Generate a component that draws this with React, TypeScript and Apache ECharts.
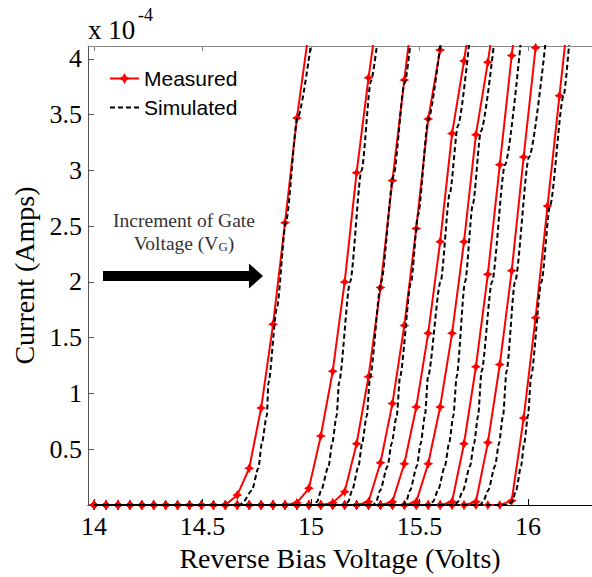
import React, { useEffect, useRef } from "react";
import * as echarts from "echarts";

// ---- axis ticks ----
const X_TICKS = [14, 14.5, 15, 15.5, 16];
const Y_TICKS = [0, 0.5, 1, 1.5, 2, 2.5, 3, 3.5, 4];
const Y_LABELS = [0.5, 1, 1.5, 2, 2.5, 3, 3.5, 4];

// ---- measured voltage grid (Volts) ----
const V_MEAS = [
  14.0, 14.055, 14.11, 14.165, 14.22, 14.275, 14.33, 14.385, 14.44, 14.495,
  14.55, 14.605, 14.66, 14.715, 14.77, 14.825, 14.88, 14.935, 14.99, 15.045,
  15.1, 15.155, 15.21, 15.265, 15.32, 15.375, 15.43, 15.485, 15.54, 15.595,
  15.65, 15.705, 15.76, 15.815, 15.87, 15.925, 15.98, 16.035, 16.09, 16.145,
  16.2,
];

// ---- measured currents (x 1e-4 A), aligned with V_MEAS ----
const MEAS_1 = [
  0, 0, 0, 0, 0, 0, 0, 0, 0, 0,
  0, 0, 0.09, 0.33, 0.87, 1.62, 2.53, 3.47, 4.25,
];
const MEAS_2 = [
  0, 0, 0, 0, 0, 0, 0, 0, 0, 0,
  0, 0, 0, 0, 0, 0, 0, 0.02, 0.15, 0.62,
  1.2, 2.0, 2.98, 3.83, 4.6,
];
const MEAS_3 = [
  0, 0, 0, 0, 0, 0, 0, 0, 0, 0,
  0, 0, 0, 0, 0, 0, 0, 0, 0, 0,
  0.02, 0.12, 0.55, 1.15, 1.95, 2.91, 3.81, 4.7,
];
const MEAS_4 = [
  0, 0, 0, 0, 0, 0, 0, 0, 0, 0,
  0, 0, 0, 0, 0, 0, 0, 0, 0, 0,
  0, 0, 0, 0.03, 0.38, 0.91, 1.61, 2.48, 3.46, 4.08,
  4.8,
];
const MEAS_5 = [
  0, 0, 0, 0, 0, 0, 0, 0, 0, 0,
  0, 0, 0, 0, 0, 0, 0, 0, 0, 0,
  0, 0, 0, 0, 0, 0.03, 0.37, 0.88, 1.54, 2.36,
  3.33, 3.98, 4.7,
];
const MEAS_6 = [
  0, 0, 0, 0, 0, 0, 0, 0, 0, 0,
  0, 0, 0, 0, 0, 0, 0, 0, 0, 0,
  0, 0, 0, 0, 0, 0, 0, 0.03, 0.37, 0.88,
  1.54, 2.36, 3.32, 3.97, 4.7,
];
const MEAS_7 = [
  0, 0, 0, 0, 0, 0, 0, 0, 0, 0,
  0, 0, 0, 0, 0, 0, 0, 0, 0, 0,
  0, 0, 0, 0, 0, 0, 0, 0, 0, 0,
  0.03, 0.55, 1.24, 2.07, 3.05, 4.03, 4.9,
];
const MEAS_8 = [
  0, 0, 0, 0, 0, 0, 0, 0, 0, 0,
  0, 0, 0, 0, 0, 0, 0, 0, 0, 0,
  0, 0, 0, 0, 0, 0, 0, 0, 0, 0,
  0, 0, 0.03, 0.56, 1.26, 2.1, 3.12, 4.1, 5.0,
];
const MEAS_9 = [
  0, 0, 0, 0, 0, 0, 0, 0, 0, 0,
  0, 0, 0, 0, 0, 0, 0, 0, 0, 0,
  0, 0, 0, 0, 0, 0, 0, 0, 0, 0,
  0, 0, 0, 0, 0, 0.04, 0.78, 1.68, 2.68, 3.67,
  4.65,
];
const MEASURED = [MEAS_1, MEAS_2, MEAS_3, MEAS_4, MEAS_5, MEAS_6, MEAS_7, MEAS_8, MEAS_9];

// ---- simulated curves: [Volts, current x 1e-4 A] ----
const SIM_1: [number, number][] = [
  [14.0, 0], [14.673, 0], [14.687, 0.03], [14.727, 0.13], [14.757, 0.33], [14.773, 0.55],
  [14.796, 0.8], [14.804, 1.1], [14.842, 1.76], [14.885, 2.55], [14.938, 3.47], [15.007, 4.24],
];
const SIM_2: [number, number][] = [
  [14.0, 0], [15.014, 0], [15.028, 0.03], [15.046, 0.13], [15.081, 0.35], [15.097, 0.55],
  [15.118, 0.8], [15.129, 1.1], [15.18, 2.0], [15.233, 3.0], [15.276, 3.8], [15.311, 4.24],
];
const SIM_3: [number, number][] = [
  [14.0, 0], [15.157, 0], [15.171, 0.03], [15.189, 0.13], [15.219, 0.35], [15.235, 0.55],
  [15.257, 0.8], [15.272, 1.15], [15.323, 2.0], [15.38, 2.95], [15.431, 3.78], [15.465, 4.26],
];
const SIM_4: [number, number][] = [
  [14.0, 0], [15.286, 0], [15.3, 0.03], [15.318, 0.13], [15.353, 0.35], [15.371, 0.55],
  [15.395, 0.8], [15.41, 1.15], [15.461, 2.0], [15.493, 2.6], [15.541, 3.46], [15.601, 4.22],
];
const SIM_5: [number, number][] = [
  [14.0, 0], [15.424, 0], [15.438, 0.03], [15.456, 0.13], [15.488, 0.35], [15.505, 0.55],
  [15.525, 0.8], [15.539, 1.15], [15.597, 2.0], [15.64, 2.8], [15.677, 3.4], [15.733, 4.22],
];
const SIM_6: [number, number][] = [
  [14.0, 0], [15.548, 0], [15.562, 0.03], [15.585, 0.13], [15.617, 0.35], [15.636, 0.55],
  [15.656, 0.8], [15.671, 1.15], [15.71, 2.0], [15.746, 2.7], [15.783, 3.35], [15.848, 4.22],
];
const SIM_7: [number, number][] = [
  [14.0, 0], [15.663, 0], [15.677, 0.03], [15.7, 0.13], [15.733, 0.35], [15.751, 0.55],
  [15.77, 0.8], [15.786, 1.2], [15.834, 2.0], [15.894, 3.05], [15.97, 4.22],
];
const SIM_8: [number, number][] = [
  [14.0, 0], [15.779, 0], [15.793, 0.03], [15.816, 0.13], [15.848, 0.35], [15.866, 0.55],
  [15.885, 0.8], [15.901, 1.2], [15.94, 2.0], [16.005, 3.12], [16.085, 4.22],
];
const SIM_9: [number, number][] = [
  [14.0, 0], [15.908, 0], [15.926, 0.03], [15.945, 0.13], [15.968, 0.35], [15.982, 0.55],
  [16.0, 0.8], [16.014, 1.15], [16.062, 2.0], [16.101, 2.68], [16.164, 3.67], [16.193, 4.22],
];
const SIMULATED = [SIM_1, SIM_2, SIM_3, SIM_4, SIM_5, SIM_6, SIM_7, SIM_8, SIM_9];

const STAR = "path://M0,-10L3.5,-3.5L10,0L3.5,3.5L0,10L-3.5,3.5L-10,0L-3.5,-3.5Z";
const SERIF = "'Liberation Serif', 'Times New Roman', serif";
const SANS = "'Liberation Sans', Arial, sans-serif";

export default function App() {
  const ref = useRef<HTMLDivElement>(null);

  useEffect(() => {
    if (!ref.current) return;
    const chart = echarts.init(ref.current, undefined, { renderer: "svg" });

    const measuredSeries = MEASURED.map((cur) => ({
      type: "line",
      name: "Measured",
      data: cur.map((c, i) => [V_MEAS[i], c]),
      symbol: STAR,
      symbolSize: 10,
      showSymbol: true,
      showAllSymbol: true,
      clip: true,
      lineStyle: { color: "#ff0000", width: 2 },
      itemStyle: { color: "#ff0000" },
      z: 2,
    }));

    const simulatedSeries = SIMULATED.map((pts, idx) => ({
      type: "line",
      name: "Simulated",
      data: pts,
      symbol: "none",
      smooth: 0.25,
      smoothMonotone: "x",
      clip: true,
      lineStyle: { color: "#000000", width: 2, type: [5, 3], dashOffset: idx },
      itemStyle: { color: "#000000" },
      z: 3,
    }));

    const option: any = {
      animation: false,
      backgroundColor: "#ffffff",
      grid: { left: 88, top: 46, right: 0, bottom: 67, containLabel: false },
      legend: {
        data: [
          { name: "Measured" },
          { name: "Simulated", itemStyle: { opacity: 0 } },
        ],
        orient: "vertical",
        left: 109,
        top: 68,
        padding: 0,
        itemWidth: 29,
        itemHeight: 14,
        itemGap: 8,
        selectedMode: false,
        textStyle: { fontFamily: SANS, fontSize: 21, color: "#000" },
      },
      xAxis: [
        {
          type: "value",
          min: 13.972,
          max: 16.295,
          position: "bottom",
          name: "Reverse Bias Voltage (Volts)",
          nameLocation: "middle",
          nameGap: 35,
          nameTextStyle: { fontFamily: SERIF, fontSize: 28, color: "#000" },
          axisLine: { show: true, lineStyle: { color: "#000", width: 1 } },
          axisTick: { show: true, inside: true, length: 6, customValues: X_TICKS, lineStyle: { color: "#000" } },
          axisLabel: {
            show: true,
            customValues: X_TICKS,
            margin: 8,
            fontFamily: SERIF,
            fontSize: 26,
            color: "#000",
            formatter: (v: number) => String(v),
          },
          splitLine: { show: false },
        },
        {
          type: "value",
          min: 13.972,
          max: 16.295,
          position: "top",
          axisLine: { show: true, lineStyle: { color: "#888", width: 1 } },
          axisTick: { show: true, inside: true, length: 5, customValues: X_TICKS, lineStyle: { color: "#888" } },
          axisLabel: { show: false },
          splitLine: { show: false },
        },
      ],
      yAxis: {
        type: "value",
        min: 0,
        max: 4.115,
        name: "Current (Amps)",
        nameLocation: "middle",
        nameGap: 45,
        nameTextStyle: { fontFamily: SERIF, fontSize: 28, color: "#000" },
        axisLine: { show: true, onZero: false, lineStyle: { color: "#555", width: 1 } },
        axisTick: { show: true, inside: true, length: 6, customValues: Y_TICKS, lineStyle: { color: "#555" } },
        axisLabel: {
          show: true,
          customValues: Y_LABELS,
          margin: 6,
          fontFamily: SERIF,
          fontSize: 26,
          color: "#000",
          formatter: (v: number) => String(v),
        },
        splitLine: { show: false },
      },
      graphic: [
        {
          type: "text",
          x: 88,
          y: 30,
          style: { text: "x 10", fontFamily: SERIF, fontSize: 27, fill: "#000", align: "left", verticalAlign: "middle" },
        },
        {
          type: "text",
          x: 138,
          y: 15,
          style: { text: "-4", fontFamily: SERIF, fontSize: 18, fill: "#000", align: "left", verticalAlign: "middle" },
        },
        {
          type: "text",
          x: 184,
          y: 220,
          style: {
            text: "Increment of Gate",
            fontFamily: SERIF,
            fontSize: 19.5,
            fill: "#333",
            align: "center",
            verticalAlign: "middle",
          },
        },
        {
          type: "text",
          x: 184,
          y: 243,
          style: {
            text: "Voltage (V{s|G})",
            fontFamily: SERIF,
            fontSize: 19.5,
            fill: "#333",
            align: "center",
            verticalAlign: "middle",
            rich: { s: { fontFamily: SERIF, fontSize: 13, fill: "#333", verticalAlign: "bottom" } },
          },
        },
        {
          type: "polygon",
          shape: {
            points: [
              [103, 271], [249, 271], [249, 263.5], [263, 276], [249, 288.5], [249, 281], [103, 281],
            ],
          },
          style: { fill: "#000" },
        },
      ],
      series: [...measuredSeries, ...simulatedSeries],
    };

    chart.setOption(option);
    return () => chart.dispose();
  }, []);

  return (
    <div
      ref={ref}
      style={{ position: "fixed", left: 0, top: 0, width: 592, height: 577, background: "#fff" }}
    />
  );
}
